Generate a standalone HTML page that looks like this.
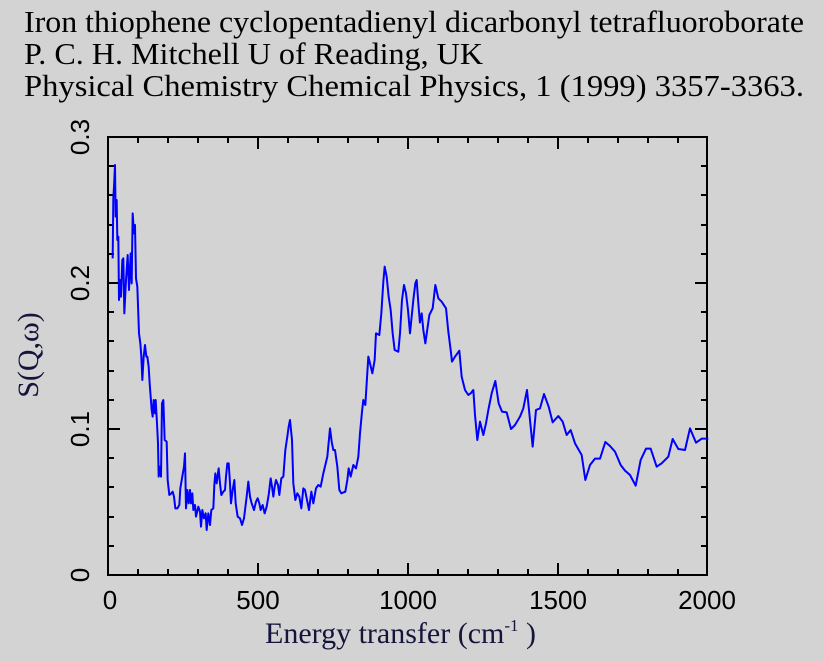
<!DOCTYPE html>
<html><head><meta charset="utf-8"><style>
html,body{margin:0;padding:0;background:#d3d3d3;}
svg{display:block}
</style></head><body>
<svg width="824" height="661" viewBox="0 0 824 661" xmlns="http://www.w3.org/2000/svg">
<rect width="824" height="661" fill="#d3d3d3"/>
<g font-family="Liberation Serif, serif" font-size="31" fill="#000">
<text x="24" y="32" textLength="780" lengthAdjust="spacingAndGlyphs">Iron thiophene cyclopentadienyl dicarbonyl tetrafluoroborate</text>
<text x="24" y="64" textLength="459" lengthAdjust="spacingAndGlyphs">P. C. H. Mitchell U of Reading, UK</text>
<text x="24" y="96" textLength="780" lengthAdjust="spacingAndGlyphs">Physical Chemistry Chemical Physics, 1 (1999) 3357-3363.</text>
</g>
<rect x="108" y="137" width="599" height="438" fill="none" stroke="#000" stroke-width="2"/>
<g stroke="#000" stroke-width="2">
<path d="M138,575v-6M168,575v-6M198,575v-6M228,575v-6M258,575v-12M288,575v-6M318,575v-6M348,575v-6M378,575v-6M408,575v-12M438,575v-6M468,575v-6M498,575v-6M528,575v-6M558,575v-12M588,575v-6M618,575v-6M648,575v-6M678,575v-6"/>
<path d="M138,137v6M168,137v6M198,137v6M228,137v6M258,137v12M288,137v6M318,137v6M348,137v6M378,137v6M408,137v12M438,137v6M468,137v6M498,137v6M528,137v6M558,137v12M588,137v6M618,137v6M648,137v6M678,137v6"/>
<path d="M108,546h6M108,517h6M108,487h6M108,458h6M108,429h12M108,400h6M108,371h6M108,341h6M108,312h6M108,283h12M108,254h6M108,225h6M108,195h6M108,166h6"/>
<path d="M707,546h-6M707,517h-6M707,487h-6M707,458h-6M707,429h-12M707,400h-6M707,371h-6M707,341h-6M707,312h-6M707,283h-12M707,254h-6M707,225h-6M707,195h-6M707,166h-6"/>
</g>
<g font-family="Liberation Sans, sans-serif" font-size="26" fill="#000" text-anchor="middle">
<text x="110" y="609">0</text>
<text x="258" y="609">500</text>
<text x="408" y="609">1000</text>
<text x="558" y="609">1500</text>
<text x="707" y="609">2000</text>
<text transform="translate(89,575) rotate(-90)">0</text>
<text transform="translate(89,429) rotate(-90)">0.1</text>
<text transform="translate(89,283) rotate(-90)">0.2</text>
<text transform="translate(89,137) rotate(-90)">0.3</text>
</g>
<text x="265" y="643" font-family="Liberation Serif, serif" font-size="30" fill="#14143c">Energy transfer (cm<tspan font-size="17" dy="-12">-1</tspan><tspan dy="12"> )</tspan></text>
<text transform="translate(38,355) rotate(-90)" text-anchor="middle" font-family="Liberation Serif, DejaVu Serif, serif" font-size="30" fill="#14143c">S(Q,ω)</text>
<g fill="none" stroke="#0000ff" stroke-width="2" stroke-linejoin="round">
<polyline transform="translate(100,130) scale(0.33333)" vector-effect="non-scaling-stroke" points="38,385 40,205 42,170 45,105 47,260 50,210 52,330 55,320 57,510 60,450 63,500 67,390 70,385 73,550 78,450 83,375 87,480 92,370 95,460 98,250 102,310 105,285 108,445 112,470 117,610 121,640 124,680 127,750 131,680 135,645 139,680 142,680 146,710 149,760 152,800 155,840 158,860 161,810 165,850 167,810 171,880 174,940 176,1040 180,1010 183,1040 186,820 190,810 194,930 200,935 203,1050 208,1095 214,1090 218,1085 222,1100 226,1135 232,1135 238,1125 241,1075 246,1045 252,1010 255,970 258,1135 262,1080 266,1120 270,1080 273,1120 277,1090 280,1140 285,1125 288,1160 295,1130 300,1145 303,1190 307,1140 312,1165 317,1150 320,1200 325,1150 330,1185 334,1140 340,1135 343,1065 346,1030 350,1060 356,1015 360,1060 364,1095 370,1085 375,1080 378,1040 382,1000 386,1000 390,1060 393,1120 398,1080 403,1050 407,1120 413,1160 420,1165 426,1185 432,1165 440,1100 445,1055 450,1100 455,1120 462,1140 468,1115 473,1105 478,1120 482,1140 488,1125 494,1150 500,1130 506,1095 512,1045 516,1070 520,1100 524,1070 528,1050 534,1065 538,1095 544,1045 550,1040 556,960 562,920 566,890 570,870 576,930 580,1060 586,1110 592,1090 598,1100 604,1135 610,1075 615,1080 620,1105 627,1140 634,1085 640,1120 648,1075 655,1065 662,1070 670,1030 676,1005 682,980 690,895 695,935 700,960 705,960 712,1010 718,1080 724,1090 736,1085 742,1050 746,1015 752,1040 760,1005 768,1015 775,980 780,910 786,845 790,810 796,825 800,760 805,680 810,700 817,730 824,690 828,610 838,615 844,550 850,455 854,410 860,440 866,500 872,540 878,610 884,660 895,665 900,610 906,510 912,465 918,490 924,540 930,610 940,510 946,460 950,450 955,520 960,580"/>
<polyline transform="translate(400,250) scale(0.33333)" vector-effect="non-scaling-stroke" points="60,215 65,190 70,240 76,280 88,195 98,175 106,105 115,145 125,155 138,175 145,245 152,300 156,335 165,320 178,302 185,380 195,420 205,435 212,430 220,420 225,495 232,570 240,515 250,555 258,520 265,480 275,430 286,393 296,460 306,485 320,487 333,537 345,525 360,500 370,475 381,420 385,460 398,590 408,480 420,475 432,432 446,470 458,517 475,498 488,515 500,555 512,540 525,580 545,615 556,690 570,645 585,626 600,626 616,576 630,588 645,605 662,645 675,662 690,675 707,707 722,630 738,596 752,596 770,650 785,640 805,620 818,567 835,597 855,600 870,535 888,578 905,566 925,566"/>
</g>
</svg>
</body></html>
